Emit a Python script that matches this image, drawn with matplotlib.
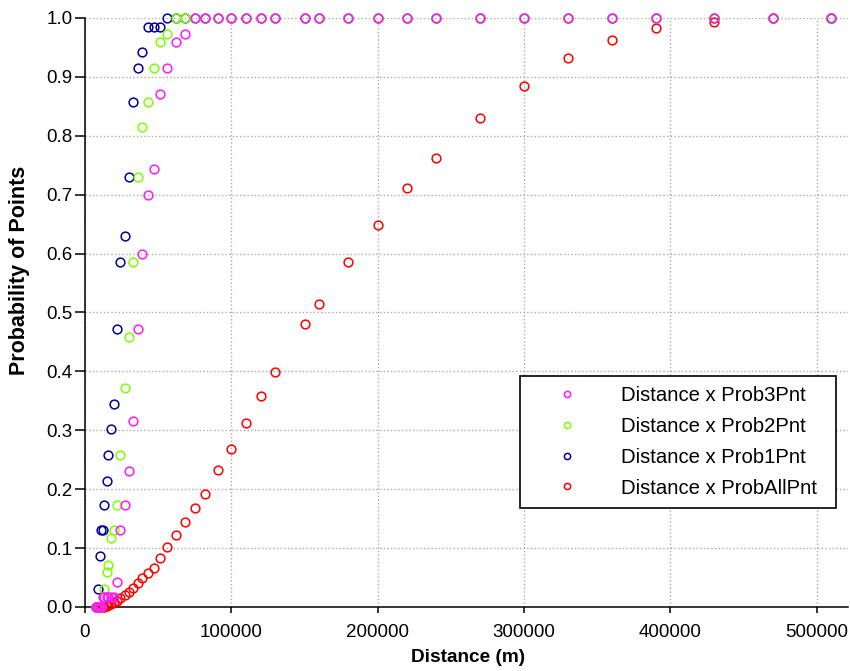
import numpy as np
import matplotlib
matplotlib.use("Agg")
import matplotlib.pyplot as plt
from matplotlib.lines import Line2D

plt.rcParams['font.family'] = ['Liberation Sans', 'DejaVu Sans']

# distances (m) shared by all series
dist = [7500, 8200, 9100, 10000, 11000, 12000, 13000, 15000, 16000, 18000,
        20000, 22000, 24000, 27000, 30000, 33000, 36000, 39000, 43000, 47000,
        51000, 56000, 62000, 68000, 75000, 82000, 91000, 100000, 110000, 120000,
        130000, 150000, 160000, 180000, 200000, 220000, 240000, 270000, 300000,
        330000, 360000, 390000, 430000, 470000, 510000]

prob3 = [0, 0, 0, 0, 0, 0.017, 0.017, 0.017, 0.017, 0.017,
         0.017, 0.043, 0.131, 0.173, 0.231, 0.315, 0.472, 0.600, 0.700, 0.744,
         0.871, 0.915, 0.959, 0.972, 1, 1, 1, 1, 1, 1,
         1, 1, 1, 1, 1, 1, 1, 1, 1,
         1, 1, 1, 1, 1, 1]

prob2 = [0, 0, 0, 0, 0, 0.017, 0.031, 0.059, 0.072, 0.117,
         0.131, 0.173, 0.258, 0.372, 0.458, 0.586, 0.730, 0.815, 0.858, 0.915,
         0.959, 0.972, 1, 1, 1, 1, 1, 1, 1, 1,
         1, 1, 1, 1, 1, 1, 1, 1, 1,
         1, 1, 1, 1, 1, 1]

prob1 = [0, 0, 0.030, 0.087, 0.131, 0.131, 0.173, 0.214, 0.258, 0.302,
         0.345, 0.472, 0.586, 0.630, 0.730, 0.858, 0.915, 0.942, 0.985, 0.985,
         0.985, 1, 1, 1, 1, 1, 1, 1, 1, 1,
         1, 1, 1, 1, 1, 1, 1, 1, 1,
         1, 1, 1, 1, 1, 1]

prob_all = [0, 0, 0, 0, 0, 0, 0, 0.002, 0.003, 0.005,
            0.008, 0.011, 0.015, 0.020, 0.025, 0.033, 0.041, 0.049, 0.057, 0.067,
            0.084, 0.101, 0.123, 0.144, 0.168, 0.192, 0.233, 0.268, 0.312, 0.358,
            0.399, 0.480, 0.514, 0.586, 0.649, 0.711, 0.762, 0.830, 0.885,
            0.932, 0.963, 0.983, 0.993, 1, 1]

labels = ['Distance x Prob3Pnt', 'Distance x Prob2Pnt',
          'Distance x Prob1Pnt', 'Distance x ProbAllPnt']
colors = ['#ff19ff', '#7fff00', '#000099', '#ff0000']

fig = plt.figure(figsize=(8.5, 6.71), dpi=100)
ax = fig.add_axes([0.1, 0.0954, 0.8976, 0.8778])

# draw red first so magenta ends up on top
series = [prob3, prob2, prob1, prob_all]
for i in [3, 2, 1, 0]:
    ax.plot(dist, series[i], linestyle='none', marker='o', markersize=6.3,
            markerfacecolor='none', markeredgecolor=colors[i],
            markeredgewidth=1.1, clip_on=False, zorder=3 + (3 - i))

ax.set_xlim(0, 521300)
ax.set_ylim(0, 1.0)
ax.set_xticks(np.arange(0, 500001, 100000))
ax.set_yticks(np.arange(0, 1.01, 0.1))
ax.yaxis.set_major_formatter(plt.FormatStrFormatter('%.1f'))
ax.grid(True, linestyle=':', color='#aaaaaa', linewidth=1.0)
ax.set_axisbelow(True)

for s in ['top', 'right']:
    ax.spines[s].set_visible(False)
ax.spines['left'].set_linewidth(1.1)
ax.spines['bottom'].set_linewidth(1.1)
ax.tick_params(axis='x', direction='out', length=4.5, width=1.1,
               labelsize=13.5, pad=8)
ax.tick_params(axis='y', direction='out', length=7, width=1.1,
               labelsize=13.5, pad=2)

fig.text(468 / 850, 1 - 657 / 671, 'Distance (m)', fontsize=13.7,
         fontweight='bold', ha='center', va='center')
fig.text(20 / 850, 1 - 270 / 671, 'Probability of Points', fontsize=15.5,
         fontweight='bold', ha='center', va='center', rotation=90)

handles = [Line2D([], [], linestyle='none', marker='o', markersize=4.5,
                  markerfacecolor='none', markeredgecolor=c,
                  markeredgewidth=1.1) for c in colors]
leg = ax.legend(handles, labels, loc='upper left',
                bbox_to_anchor=(0.570, 0.392, 0.414, 0.0), mode='expand',
                fontsize=14.6, frameon=True, fancybox=False, framealpha=1,
                edgecolor='black', borderpad=0.5, handlelength=3.6,
                handletextpad=0.87, labelspacing=0.58, borderaxespad=0)
leg.get_frame().set_linewidth(1.2)

fig.savefig('out.png', dpi=100)
